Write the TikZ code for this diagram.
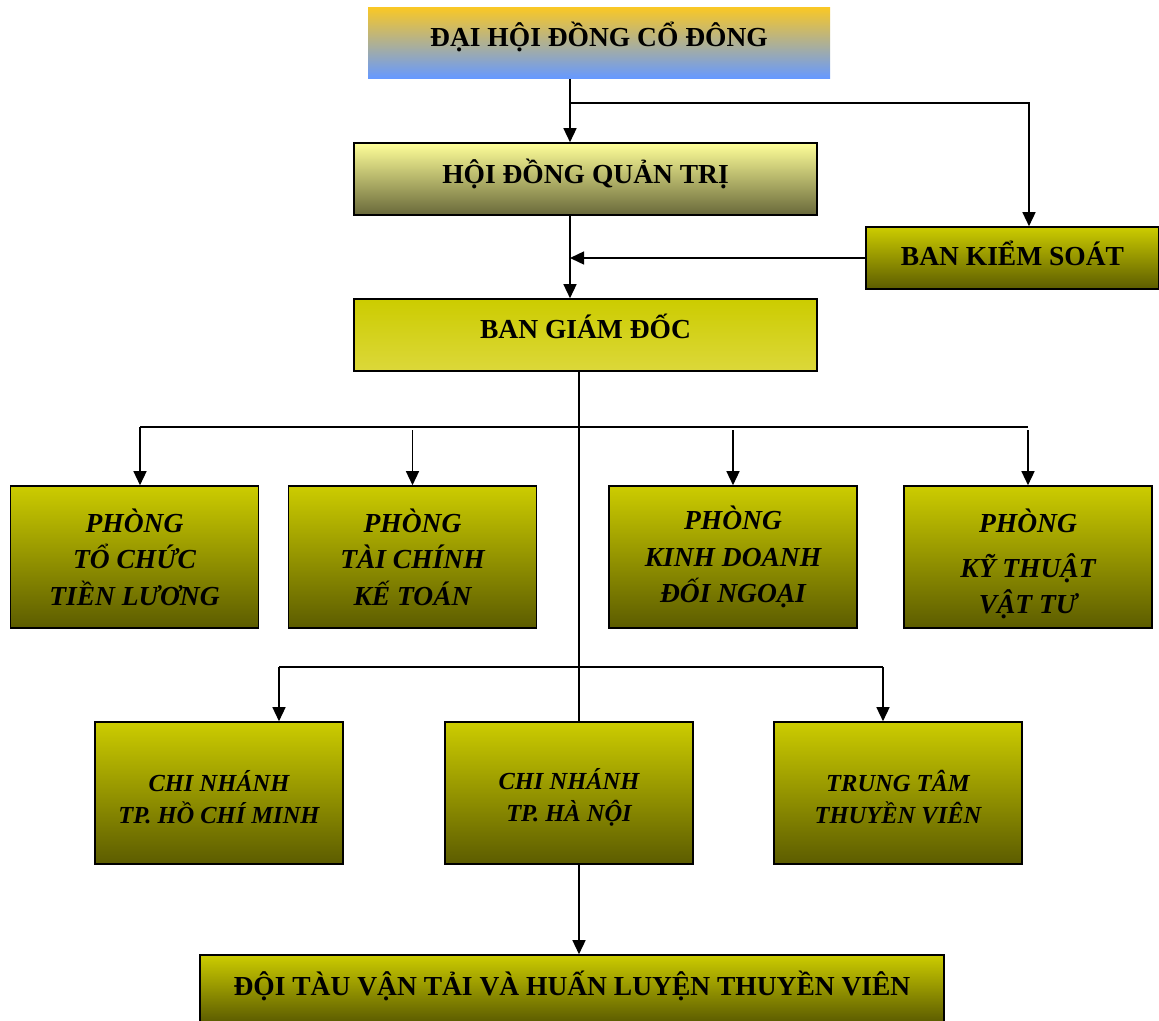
\documentclass[tikz,border=0pt]{standalone}
\usepackage{fontspec}
\setmainfont{Liberation Serif}
\usepackage{tikz}
\usetikzlibrary{positioning,arrows.meta,calc}
\usepackage{xcolor}
\definecolor{orgolive}{HTML}{CCCC00}
\definecolor{orgdark}{HTML}{5C5C00}
\definecolor{orglight}{HTML}{FFFF99}
\definecolor{orggray}{HTML}{68683A}
\definecolor{orgpale}{HTML}{DCD83A}
\definecolor{orggold}{HTML}{FAC824}
\definecolor{orgblue}{HTML}{6699FF}

\begin{document}
\begin{tikzpicture}[
    x=1pt, y=-1pt,
    box/.style={draw, line width=1.6pt, top color=orgolive, bottom color=orgdark, minimum width=248pt, minimum height=142pt, align=center, inner sep=0pt, font=\fontsize{27.5}{36.5}\selectfont\bfseries\itshape},
    wide/.style={box, minimum width=463pt, minimum height=72pt, font=\fontsize{27.5}{33}\selectfont\bfseries},
    small/.style={box, font=\fontsize{24.5}{32}\selectfont\bfseries\itshape},
    raised/.style={text depth=#1},
    arrow/.style={-{Triangle[length=14pt,width=13pt]}, line width=1.4pt},
    bus/.style={line width=1.6pt},
]
\useasboundingbox (0,0) rectangle (1159,1020);

\node[wide, draw=none, top color=orggold, bottom color=orgblue, minimum width=462pt, minimum height=71pt, raised=17pt] (dhdcd) at (599,42.5) {ĐẠI HỘI ĐỒNG CỔ ĐÔNG};
\node[wide, top color=orglight, bottom color=orggray, raised=16pt] (hdqt) at (585.5,179) {HỘI ĐỒNG QUẢN TRỊ};
\node[wide, minimum width=293pt, minimum height=62pt, raised=10pt] (bks) at (1012.5,258) {BAN KIỂM SOÁT};
\node[wide, top color=orgolive, bottom color=orgpale, raised=18pt] (bgd) at (585.5,335) {BAN GIÁM ĐỐC};

% Phong ban
\node[box] (tctl) at (134.5,557) {PHÒNG\\TỔ CHỨC\\TIỀN LƯƠNG};
\node[box] (tckt) at (412.5,557) {PHÒNG\\TÀI CHÍNH\\KẾ TOÁN};
\node[box] (kddn) at (733,557) {PHÒNG\\KINH DOANH\\ĐỐI NGOẠI};
\node[box] (ktvt) at (1028,557) {\rule{0pt}{38pt}PHÒNG\\[8pt]KỸ THUẬT\\VẬT TƯ};

% Chi nhanh
\node[small] (cnhcm) at (219,793) {\rule{0pt}{29pt}CHI NHÁNH\\TP. HỒ CHÍ MINH};
\node[small] (cnhn) at (569,793) {\rule{0pt}{29pt}CHI NHÁNH\\TP. HÀ NỘI};
\node[small] (ttvt) at (898,793) {\rule{0pt}{29pt}TRUNG TÂM\\THUYỀN VIÊN};

\node[wide, minimum width=744pt, minimum height=67pt, raised=10pt] (doitau) at (572,988.5) {ĐỘI TÀU VẬN TẢI VÀ HUẤN LUYỆN THUYỀN VIÊN};

\coordinate (trunkA) at (570,103);
\coordinate (trunkB) at (579,427);
\coordinate (busL) at (279,667);
\coordinate (busR) at (883,667);

\draw[arrow] (dhdcd.south -| trunkA) -- (hdqt.north -| trunkA);
\draw[arrow] (trunkA) -| ([xshift=16.5pt]bks.north);
\draw[arrow] (hdqt.south -| trunkA) -- (bgd.north -| trunkA);
\draw[arrow] (bks.west) -- (bks.west -| trunkA);

\draw[bus] (bgd.south -| trunkB) -- (cnhn.north -| trunkB);
\draw[bus] ([xshift=5.5pt]tctl.north |- trunkB) -- (ktvt.north |- trunkB);
\draw[arrow] ([xshift=5.5pt]tctl.north |- trunkB) -- ([xshift=5.5pt]tctl.north);
\foreach \n in {tckt,kddn,ktvt}
  \draw[arrow] ([yshift=-3pt]\n.north |- trunkB) -- (\n.north);

\draw[bus] (busL) -- (busR);
\draw[arrow] (busL) -- (busL |- cnhcm.north);
\draw[arrow] (busR) -- (busR |- ttvt.north);

\draw[arrow] (cnhn.south -| trunkB) -- (doitau.north -| trunkB);

\end{tikzpicture}
\end{document}
